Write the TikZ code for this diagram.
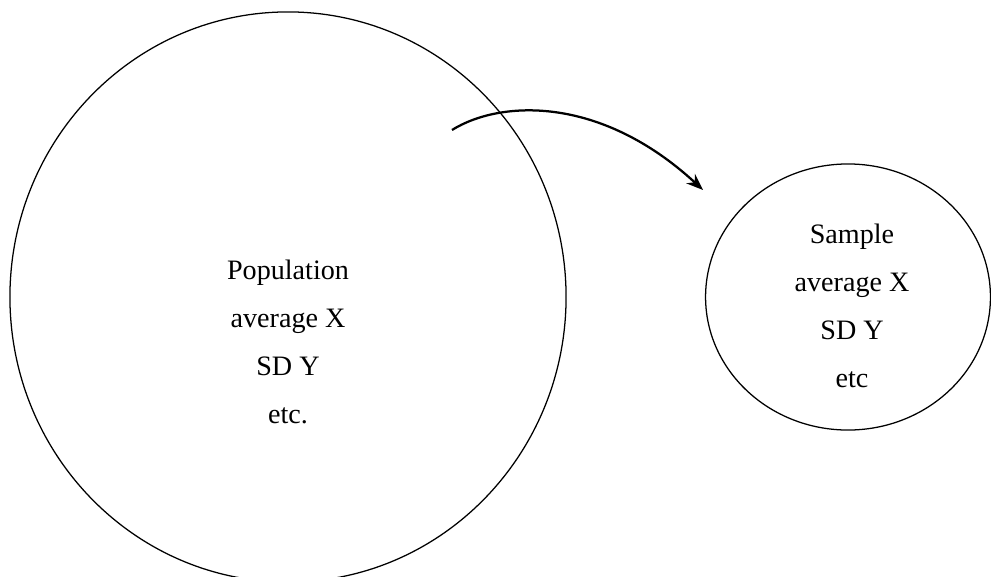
\documentclass[tikz,border=0pt]{standalone}
\usepackage{fontspec}
\setmainfont{Liberation Serif}
\usetikzlibrary{arrows.meta,shapes.geometric,positioning}

\begin{document}
\begin{tikzpicture}[x=0.025cm, y=-0.025cm,
    group/.style={ellipse, draw, line width=0.9pt, inner sep=0pt},
    stats/.style={align=center, font=\fontsize{20}{34.3}\selectfont}
]
    \useasboundingbox (0,0) rectangle (991,577);

    % Population and sample
    \node[group, minimum width=13.9cm, minimum height=14.25cm] (pop) at (288,297) {};
    \node[group, minimum width=7.12cm, minimum height=6.65cm] (sam) at (848,297) {};

    % Texts
    \node[stats] (poptext) at (288,342) {Population\\average X\\SD Y\\etc.};
    \node[stats] (samtext) at (852,306) {Sample\\average X\\SD Y\\etc};

    % Drawing the sample
    \coordinate (from) at (452,130);
    \coordinate (to) at (703,190);
    \draw[-{Stealth[length=4.2mm, width=3.2mm]}, line width=1.6pt] (from) .. controls (500,100) and (600,95) .. (to);

\end{tikzpicture}
\end{document}
